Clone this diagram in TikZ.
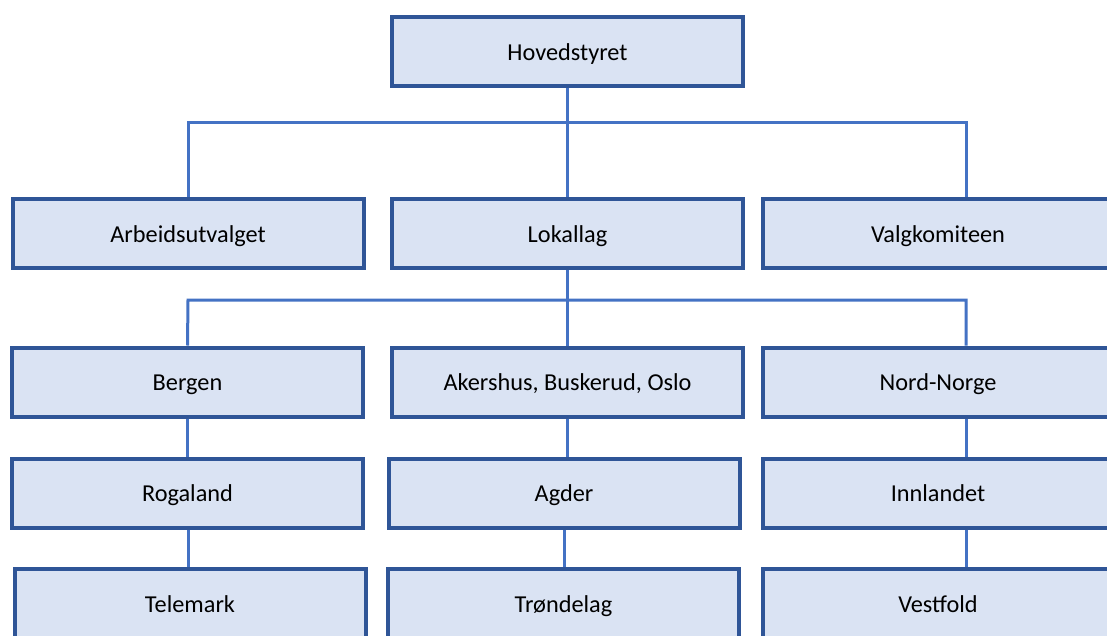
\documentclass[tikz,border=0pt]{standalone}
\usepackage{fontspec}
\setmainfont{Carlito}
\usepackage{tikz}
\definecolor{boxline}{HTML}{2F5597}
\definecolor{boxfill}{HTML}{DAE3F3}
\definecolor{linkblue}{HTML}{4472C4}
\tikzset{
  box/.style={draw=boxline, fill=boxfill, line width=4pt, minimum width=351pt,
    minimum height=69pt, inner sep=0pt, text height=22pt, text depth=5pt,
    font=\fontsize{24.3}{28}\selectfont},
  link/.style={draw=linkblue, line width=3pt}
}

\begin{document}
\begin{tikzpicture}[x=1pt,y=-1pt]
			\clip (0,0) rectangle (1107,635);
			\fill[white] (0,0) rectangle (1107,635);
			% top
			\node[box] (hoved) at (567.5,51.5) {Hovedstyret};
			% second row
			\node[box] (arbeid) at (188,233.5) {Arbeidsutvalget};
			\node[box] (lokal) at (567.5,233.5) {Lokallag};
			\node[box] (valg) at (938,233.5) {Valgkomiteen};
			% local groups
			\node[box] (bergen) at (187.5,382) {Bergen};
			\node[box] (abo) at (567.5,382) {Akershus, Buskerud, Oslo};
			\node[box] (nord) at (938,382) {Nord-Norge};
			\node[box] (roga) at (187.5,493) {Rogaland};
			\node[box] (agder) at (564,493) {Agder};
			\node[box] (innl) at (938,493) {Innlandet};
			\node[box] (tele) at (190,603.5) {Telemark};
			\node[box] (trond) at (563.5,603.5) {Trøndelag};
			\node[box] (vest) at (938,603.5) {Vestfold};
			% connectors
			\coordinate (t1) at (188,122);
			\coordinate (t2) at (966,122);
			\coordinate (m1) at (188,300);
			\coordinate (m2) at (966,300);
			\draw[link] (hoved) -- (lokal);
			\draw[link] (arbeid.north) -- (t1) -- (t2) -- (valg.north -| t2);
			\draw[link] (lokal) -- (abo);
			\draw[link] (bergen.north) -- (m1) -- (m2) -- (nord.north -| m2);
			\draw[link] (bergen) -- (roga);
			\draw[link] (abo.south) -- (abo.south |- agder.north);
			\draw[link] (nord.south -| m2) -- (innl.north -| m2);
			\draw[link] (roga.south -| t1) -- (tele.north -| t1);
			\draw[link] (agder.south) -- (agder.south |- trond.north);
			\draw[link] (innl.south -| m2) -- (vest.north -| m2);
\end{tikzpicture}
\end{document}
